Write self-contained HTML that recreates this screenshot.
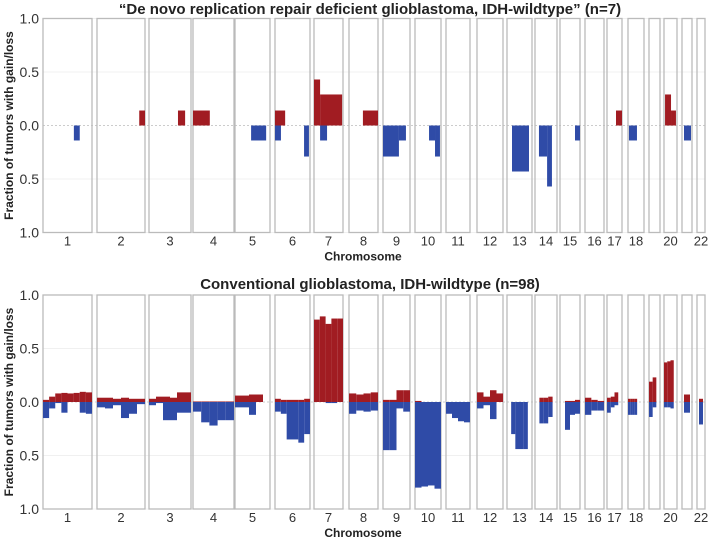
<!DOCTYPE html>
<html><head><meta charset="utf-8"><style>
body{margin:0;background:#fff;}
svg{display:block;font-family:"Liberation Sans",Arial,sans-serif;}
</style></head><body>
<svg id="chart" width="708" height="538" viewBox="0 0 708 538"></svg>
<script>
// chromosome names and box extents (genome layout)
const chromosomes = ["1","2","3","4","5","6","7","8","9","10","11","12","13","14","15","16","17","18","19","20","21","22"];
const chromLabels = ["1","2","3","4","5","6","7","8","9","10","11","12","13","14","15","16","17","18","","20","","22"];
const boxStart = [43,97,149,193,235,275,314,349,383,415,446,477,507,535,560,585,607,628,649,664,682,697];
const boxEnd   = [92,145,191,234,270,310,343,378,410,441,470,503,532,557,580,604,622,644,660,677,692,705];
const yTicks = [1.0,0.5,0.0,-0.5,-1.0];
const yTickLabels = ["1.0","0.5","0.0","0.5","1.0"];

// Panel A (n=7): segments [chromIndex, startFrac, endFrac, value]
const topGains = [[1,0.88,1.0,0.14],[2,0.69,0.86,0.14],[3,0,0.41,0.14],[5,0,0.29,0.14],[6,0,0.21,0.43],[6,0.21,0.97,0.29],[7,0.48,1.0,0.14],[16,0.6,1.0,0.14],[19,0.08,0.54,0.29],[19,0.54,0.92,0.14]];
const topLosses = [[0,0.63,0.75,0.14],[4,0.46,0.89,0.14],[5,0,0.17,0.14],[5,0.83,0.97,0.29],[6,0.21,0.45,0.14],[8,0,0.59,0.29],[8,0.59,0.85,0.14],[9,0.54,0.77,0.14],[9,0.77,0.96,0.29],[12,0.2,0.88,0.43],[13,0.18,0.55,0.29],[13,0.55,0.77,0.57],[14,0.75,1.0,0.14],[17,0.06,0.56,0.14],[20,0.2,0.9,0.14]];

// Panel B (n=98): equal-width bins per chromosome
const botGains = [
 [0.02,0.05,0.08,0.085,0.08,0.085,0.095,0.09],
 [0.04,0.04,0.03,0.04,0.03,0.03],
 [0.03,0.05,0.05,0.04,0.09,0.09],
 [0.005,0.005,0.005,0.005,0.005],
 [0.06,0.06,0.07,0.07,0],
 [0.03,0.02,0.02,0.02,0.02,0.03],
 [0.77,0.8,0.73,0.78,0.78],
 [0.08,0.07,0.08,0.09],
 [0.02,0.02,0.11,0.11],
 [0.01,0,0,0],
 [0,0,0,0],
 [0.09,0.05,0.11,0.08],
 [0,0,0,0,0,0],
 [0,0.04,0.04,0.05,0],
 [0,0.01,0.01,0.02],
 [0.04,0.02,0.01],
 [0.04,0.05,0.09,0],
 [0.03,0.03,0.03,0.03,0,0,0],
 [0.19,0.23,0],
 [0.37,0.38,0.39,0],
 [0,0.07,0.07,0.07,0],
 [0,0.03,0.03,0]
];
const botLosses = [
 [0.15,0.06,0.01,0.1,0,0,0.1,0.11],
 [0.05,0.06,0.03,0.15,0.11,0.02],
 [0.03,0.01,0.17,0.17,0.1,0.1],
 [0.09,0.19,0.22,0.17,0.17],
 [0.05,0.05,0.12,0,0],
 [0.09,0.11,0.35,0.35,0.38,0.3],
 [0,0,0.01,0.01,0],
 [0.11,0.08,0.09,0.08],
 [0.45,0.45,0.06,0.09],
 [0.8,0.79,0.78,0.81],
 [0.11,0.15,0.18,0.19],
 [0.06,0.03,0.16,0],
 [0,0.3,0.44,0.44,0.44,0],
 [0,0.2,0.2,0.14,0],
 [0,0.26,0.12,0.11],
 [0.12,0.08,0.08],
 [0.1,0.05,0.03,0],
 [0.12,0.12,0.12,0.12,0,0,0],
 [0.14,0.05,0],
 [0.05,0.05,0.06,0],
 [0,0.1,0.1,0.1,0],
 [0,0.21,0.21,0]
];

const NS="http://www.w3.org/2000/svg";
const svg=document.getElementById('chart');
function el(tag,attrs,parent){const e=document.createElementNS(NS,tag);for(const k in attrs)e.setAttribute(k,attrs[k]);(parent||svg).appendChild(e);return e;}
const RED="#a11c22", BLUE="#2f4ba7";

function drawPanel(pi,top,zero,scale,title,segG,segL){
  const y=v=>zero - v*scale;
  const xAt=(c,f)=>boxStart[c]+f*(boxEnd[c]-boxStart[c]);
  const g=el('g',{});
  
  
  const t=el('text',{x:370,y:top-6,'text-anchor':'middle','font-size':'15','font-weight':'bold',fill:'#222'},g);
  t.textContent=title;
  
  
  yTicks.forEach((v,i)=>{
    const gl=el('line',{x1:43,x2:705,y1:y(v),y2:y(v),stroke:v===0?'#ccc':'#f0f0f0','stroke-width':1,'stroke-dasharray':v===0?'2,2':''},g);
    
    
    const tl=el('text',{x:39,y:y(v)+5,'text-anchor':'end','font-size':'14',fill:'#333'},g);
    tl.textContent=yTickLabels[i];
    
    
  });
  chromosomes.forEach((c,i)=>{
    const r=el('rect',{x:boxStart[i],y:y(1),width:boxEnd[i]-boxStart[i],height:2*scale,fill:'none',stroke:'#bbb','stroke-width':1.3},g);
    
    
    const lb=el('text',{x:(boxStart[i]+boxEnd[i])/2,y:y(-1)+13,'text-anchor':'middle','font-size':'13',fill:'#333'},g);
    lb.textContent=chromLabels[i];
    
    
  });
  segG.forEach(s=>{
    const x0=xAt(s[0],s[1]),x1=xAt(s[0],s[2]);
    const r=el('rect',{x:x0,y:y(s[3]),width:x1-x0,height:zero-y(s[3]),fill:RED},g);
    
    
  });
  segL.forEach(s=>{
    const x0=xAt(s[0],s[1]),x1=xAt(s[0],s[2]);
    const r=el('rect',{x:x0,y:zero,width:x1-x0,height:s[3]*scale,fill:BLUE},g);
    
    
  });
  const at=el('text',{x:363,y:y(-1)+28,'text-anchor':'middle','font-size':'12','font-weight':'bold',fill:'#222'},g);
  at.textContent='Chromosome';
  
  
  const yt=el('text',{x:0,y:0,'text-anchor':'middle','font-size':'12','font-weight':'bold',fill:'#222',transform:`translate(13,${zero}) rotate(-90)`},g);
  yt.textContent='Fraction of tumors with gain/loss';
  
  
}
function binsToSegs(arr){const out=[];arr.forEach((bins,c)=>{bins.forEach((v,i)=>{if(v>0)out.push([c,i/bins.length,(i+1)/bins.length,v]);});});return out;}

drawPanel('a',20,125.5,107,'\u201cDe novo replication repair deficient glioblastoma, IDH-wildtype\u201d (n=7)',topGains,topLosses);
drawPanel('b',295,402,107,'Conventional glioblastoma, IDH-wildtype (n=98)',binsToSegs(botGains),binsToSegs(botLosses));
</script>
</body></html>
